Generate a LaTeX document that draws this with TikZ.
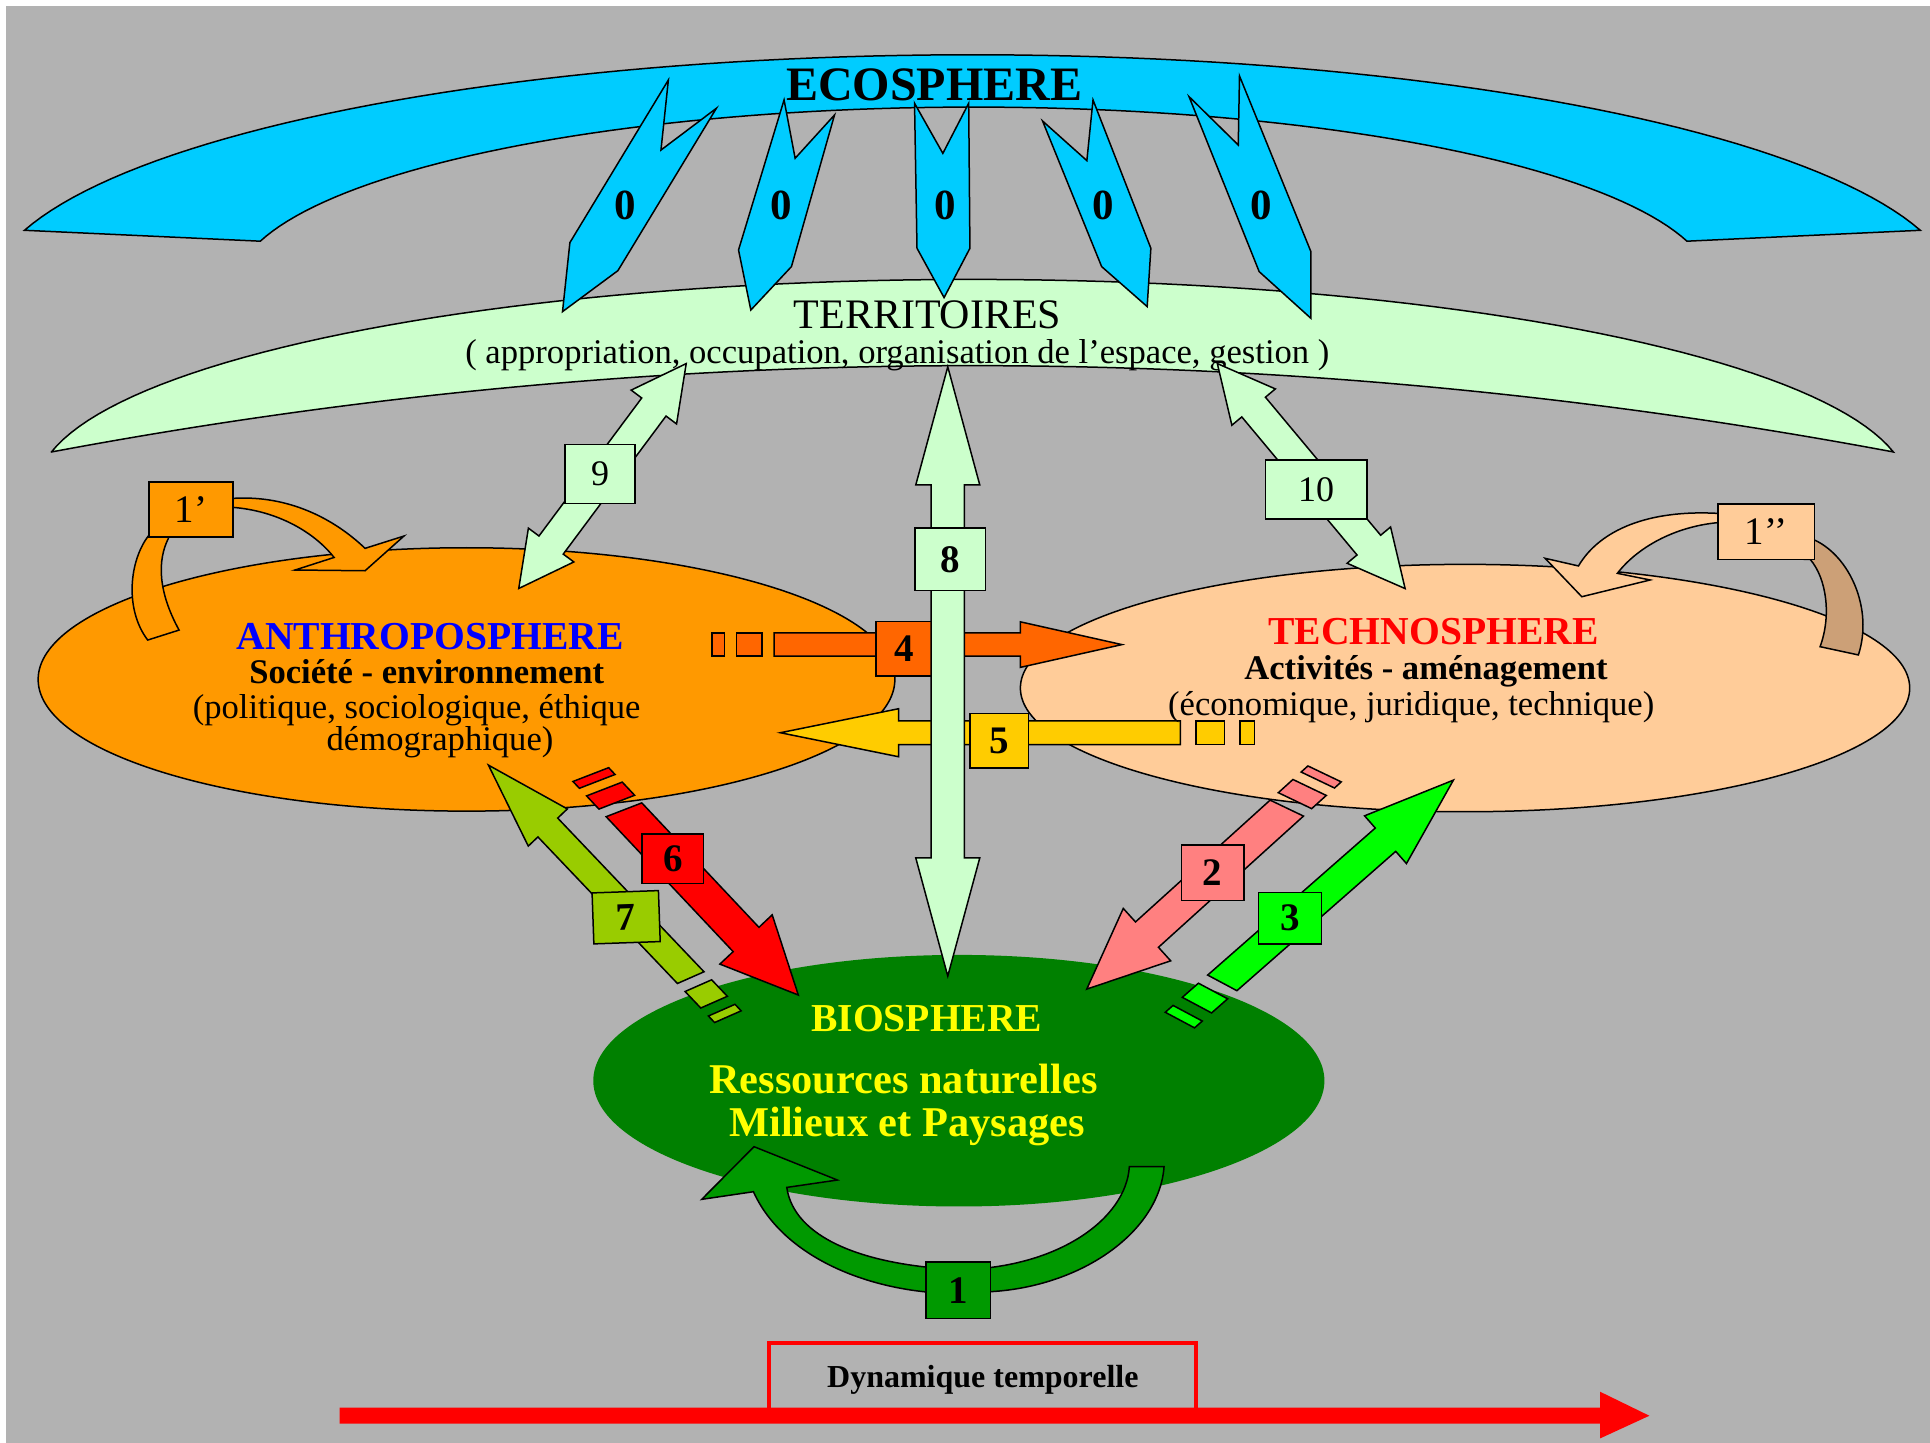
\documentclass[tikz,border=0pt]{standalone}
\usepackage{fontspec}
\setmainfont{Liberation Serif}
\usetikzlibrary{shapes.geometric}
\definecolor{bgc}{HTML}{B2B2B2}
\definecolor{eco}{HTML}{00CCFF}
\definecolor{terr}{HTML}{CCFFCC}
\definecolor{anthro}{HTML}{FF9900}
\definecolor{techno}{HTML}{FFCC99}
\definecolor{bio}{HTML}{008000}
\definecolor{cA}{HTML}{FF6600}
\definecolor{cB}{HTML}{FFCC00}
\definecolor{cC}{HTML}{FF0000}
\definecolor{cD}{HTML}{99CC00}
\definecolor{cE}{HTML}{FF8080}
\definecolor{cF}{HTML}{00FF00}
\definecolor{cG}{HTML}{009900}
\definecolor{tanc}{HTML}{CCA077}
\definecolor{yel}{HTML}{FFFF00}
\newcommand\fsz[1]{\fontsize{#1}{#1}\selectfont}
\tikzset{
  outl/.style={draw=black, line width=0.75pt},
  lbox/.style={draw=black, line width=0.75pt, inner sep=0pt, font=\fsz{19.5}\bfseries},
}
\def\arrK{0}
% single arrow with broken tail: colour, transform, L, w, H, h, gap, medium, small  (slant \arrK)
\newcommand\sarrow[9]{%
 \begin{scope}[#2]
 \pgfmathsetmacro\arrPa{#3+#7}%
 \pgfmathsetmacro\arrPb{#3+#7+#8}%
 \pgfmathsetmacro\arrPc{#3+2*#7+#8}%
 \pgfmathsetmacro\arrPd{#3+2*#7+#8+#9}%
 \filldraw[outl, fill=#1] (0,0) -- (#6,#5) -- (#6,#4) -- ({#3+(\arrK)},#4) -- ({#3-(\arrK)},-#4) -- (#6,-#4) -- (#6,-#5) -- cycle;
 \filldraw[outl, fill=#1] ({\arrPa-(\arrK)},-#4) -- ({\arrPb-(\arrK)},-#4) -- ({\arrPb+(\arrK)},#4) -- ({\arrPa+(\arrK)},#4) -- cycle;
 \filldraw[outl, fill=#1] ({\arrPc-(\arrK)},-#4) -- ({\arrPd-(\arrK)},-#4) -- ({\arrPd+(\arrK)},#4) -- ({\arrPc+(\arrK)},#4) -- cycle;
 \end{scope}}
% double arrow: colour, transform, L, w, H, h
\newcommand\darrow[6]{%
 \begin{scope}[#2]
 \filldraw[outl, fill=#1] (0,0) -- (#6,#5) -- (#6,#4) -- ({#3-#6},#4) -- ({#3-#6},#5) -- (#3,0)
   -- ({#3-#6},-#5) -- ({#3-#6},-#4) -- (#6,-#4) -- (#6,-#5) -- cycle;
 \end{scope}}
\begin{document}
\begin{tikzpicture}[x=0.6155pt, y=-0.6155pt]
\useasboundingbox (0,0) rectangle (1568,1172);
\fill[white] (0,0) rectangle (1568,1172);
\fill[bgc] (5,5) rectangle (1568,1172);

% ECOSPHERE band
\filldraw[outl, fill=eco] plot[domain=195.7:344.3, samples=90] ({790+800*cos(\x)},{240+195.5*sin(\x)})
  -- plot[domain=195:345, samples=90] ({791-600*cos(\x)},{234+147*sin(\x)}) -- cycle;

% TERRITOIRES crescent
\filldraw[outl, fill=terr] plot[domain=190.1:349.9, samples=90] ({790+760*cos(\x)},{397+170*sin(\x)})
  .. controls (1039.4,273.7) and (540.6,273.7) .. (41.8,367.2) -- cycle;

% blue arrows 0
\filldraw[outl, fill=eco] (543,65) -- (537,121.9) -- (582,88) -- (502,219.9) -- (457,253.2) -- (463,197.1) -- cycle;
\filldraw[outl, fill=eco] (637,81.2) -- (646,128.6) -- (678,93.4) -- (643,216.6) -- (610,251.9) -- (600,203.1) -- cycle;
\filldraw[outl, fill=eco] (743,83.9) -- (766,124.6) -- (787,83.9) -- (788,201.7) -- (767,241.8) -- (745,201.7) -- cycle;
\filldraw[outl, fill=eco] (847,98.3) -- (883,130.5) -- (888,81.2) -- (935,201.7) -- (932,249.1) -- (895,216.6) -- cycle;
\filldraw[outl, fill=eco] (966,78.5) -- (1006,117.8) -- (1007,61.7) -- (1065,204.4) -- (1065,258.6) -- (1023,220.7) -- cycle;
\node[font=\fsz{21.5}\bfseries] (z1) at (508,167) {0};
\node[font=\fsz{21.5}\bfseries] (z2) at (635,167) {0};
\node[font=\fsz{21.5}\bfseries] (z3) at (768,167) {0};
\node[font=\fsz{21.5}\bfseries] (z4) at (896,167) {0};
\node[font=\fsz{21.5}\bfseries] (z5) at (1025,167) {0};

\node[font=\fsz{24}\bfseries, anchor=base] (ecot) at (759,81.5) {ECOSPHERE};
\node[font=\fsz{21}, anchor=base] (terrt) at (753.5,266.5) {TERRITOIRES};
\node[font=\fsz{17.3}, anchor=base] (terrs) at (729,295.5) {( appropriation, occupation, organisation de l’espace, gestion )};

% spheres
\node[ellipse, outl, fill=anthro, minimum width=428.4pt, minimum height=131.7pt, inner sep=0pt] (anthro) at (379,552) {};
\node[ellipse, outl, fill=techno, minimum width=444.7pt, minimum height=123.7pt, inner sep=0pt] (techno) at (1190.25,559) {};
\node[ellipse, fill=bio, minimum width=365.6pt, minimum height=125.8pt, inner sep=0pt] (bio) at (779,878) {};

% arrows 4,5,6,7,2,3
\def\arrK{0}
\sarrow{cA}{shift={(911.5,523.7)}, rotate=180}{282.5}{9.45}{18.5}{82.5}{10}{20.5}{10}
\sarrow{cB}{shift={(634,595.3)}, rotate=0}{325}{9.7}{19.5}{96}{12.5}{23.5}{11.5}
\def\arrK{-5.85}
\sarrow{cC}{shift={(648.6,808.4)}, rotate=133.27}{206.7}{14.4}{29.2}{62}{8.5}{14.7}{7.6}
\def\arrK{-4}
\sarrow{cD}{shift={(396.8,621.6)}, rotate=-46.41}{238.4}{11.1}{21.9}{70}{9}{18.5}{7.3}
\def\arrK{5.7}
\sarrow{cE}{shift={(882.9,803.6)}, rotate=42.14}{219.2}{13.9}{28.7}{66}{9}{16}{7.4}
\def\arrK{4.75}
\sarrow{cF}{shift={(1180.8,633.8)}, rotate=-138.74}{249.8}{12.6}{25.8}{73.4}{10}{17.4}{8.4}

\node[lbox, fill=cA, minimum width=28.3pt, minimum height=27.1pt] (b4) at (734.5,527) {4};
\node[lbox, fill=cB, minimum width=29.2pt, minimum height=27.1pt] (b5) at (811.75,601.85) {5};
\node[lbox, fill=cC, minimum width=30.8pt, minimum height=24.6pt] (b6) at (546.6,697.6) {6};
\node[lbox, fill=cD, minimum width=33.2pt, minimum height=25.5pt, rotate=2] (b7) at (508.7,745.2) {7};
\node[lbox, fill=cE, minimum width=31.4pt, minimum height=27.7pt] (b2) at (985.2,709.2) {2};
\node[lbox, fill=cF, minimum width=31.6pt, minimum height=25.9pt] (b3) at (1048.1,746) {3};

% arrows 8, 9, 10
\darrow{terr}{shift={(770,298)}, rotate=-90}{495}{13.5}{26}{96}
\darrow{terr}{shift={(557.5,295.4)}, rotate=233.33}{227.8}{12.3}{23}{44}
\darrow{terr}{shift={(989,295.4)}, rotate=-50.15}{238.1}{12.5}{23}{46}
\node[lbox, fill=terr, minimum width=35.1pt, minimum height=31.2pt] (b8) at (772,454.4) {8};
\node[lbox, fill=terr, minimum width=35.1pt, minimum height=29.5pt, font=\fsz{18}] (b9) at (487.5,385) {9};
\node[lbox, fill=terr, minimum width=50.8pt, minimum height=29.4pt, font=\fsz{18}] (b10) at (1069.3,397.7) {10};

% curved arrow 1'
\filldraw[outl, fill=anthro] (182,404.9) -- (189.1,404.9) .. controls (235,402) and (272,422) .. (296.6,445.5)
  -- (328.2,435.5) -- (296.6,463.7) -- (239.7,463.1) -- (271.4,452.9)
  .. controls (255,432) and (225,415) .. (189.1,412.2) -- (182,412.2) -- cycle;
\filldraw[outl, fill=anthro] (122,428) -- (121.1,434.7) .. controls (105,455) and (101,495) .. (120,520)
  -- (145.5,511.9) .. controls (128,480) and (128,455) .. (136.8,437.4) -- (137,428) -- cycle;
\node[lbox, fill=anthro, minimum width=41.9pt, minimum height=27.5pt, font=\fsz{19.5}] (b1p) at (155.1,413.75) {1’};

% curved arrow 1''
\filldraw[outl, fill=techno] (1402,417.1) -- (1395.6,417.1) .. controls (1340,414) and (1300,430) .. (1282.4,459.8)
  -- (1255.3,453.6) -- (1285.1,484.8) -- (1340.6,471.2) -- (1314,465.8)
  .. controls (1330,445) and (1360,428) .. (1395.6,424.6) -- (1402,424.6) -- cycle;
\filldraw[outl, fill=tanc] (1466,438.7) -- (1474.1,438.7) .. controls (1503,452) and (1522,495) .. (1509.8,532.1)
  -- (1478.7,525.4) .. controls (1488,500) and (1484,470) .. (1470.6,454.4) -- (1466,454.4) -- cycle;
\node[lbox, fill=techno, minimum width=48.3pt, minimum height=27.7pt, font=\fsz{19.5}] (b1pp) at (1434.85,431.95) {1’’};

% curved arrow 1
\filldraw[outl, fill=cG] (917.5,947.9) -- (945.7,947.9) .. controls (942,1000) and (880,1045) .. (804.9,1049.4)
  .. controls (730,1058) and (640,1030) .. (612.1,968.2)
  -- (570.1,974.4) -- (612.6,931.6) -- (680.3,958.7) -- (639.2,964.7)
  .. controls (645,1005) and (700,1028) .. (780,1031.5)
  .. controls (860,1030) and (915,990) .. (917.5,947.9) -- cycle;
\node[lbox, fill=cG, minimum width=32.3pt, minimum height=28.2pt] (b1) at (778.6,1048.2) {1};

% texts in spheres
\node[font=\fsz{19.8}\bfseries, text=blue, anchor=base] (anthrot) at (349.4,527.6) {ANTHROPOSPHERE};
\node[font=\fsz{17.3}\bfseries, anchor=base] (anthros) at (346.7,555.2) {Société - environnement};
\node[font=\fsz{17.3}, anchor=base] (anthrod1) at (338.5,583.6) {(politique, sociologique, éthique};
\node[font=\fsz{17.3}, anchor=base] (anthrod2) at (357.5,609.4) {démographique)};
\node[font=\fsz{19.8}\bfseries, text=red, anchor=base] (technot) at (1164.6,524) {TECHNOSPHERE};
\node[font=\fsz{17.3}\bfseries, anchor=base] (technos) at (1158.5,552) {Activités - aménagement};
\node[font=\fsz{17.3}, anchor=base] (technod) at (1146.5,581) {(économique, juridique, technique)};
\node[font=\fsz{19.8}\bfseries, text=yel, anchor=base] (biot) at (753,838.4) {BIOSPHERE};
\node[font=\fsz{21.2}\bfseries, text=yel, anchor=base] (bios1) at (734,888.6) {Ressources naturelles};
\node[font=\fsz{21.2}\bfseries, text=yel, anchor=base] (bios2) at (737,923.1) {Milieux et Paysages};

% time dynamics
\node[draw=red, line width=2.2pt, minimum width=213.3pt, minimum height=36.3pt, inner sep=0pt] (dynbox) at (798.25,1120.5) {};
\fill[red] (276,1143.5) -- (1300,1143.5) -- (1300,1130.7) -- (1340,1150.2) -- (1300,1168.6) -- (1300,1156.5) -- (276,1156.5) -- cycle;
\node[font=\fsz{16}\bfseries, anchor=base] (dyn) at (798.5,1127) {Dynamique temporelle};
\end{tikzpicture}
\end{document}
